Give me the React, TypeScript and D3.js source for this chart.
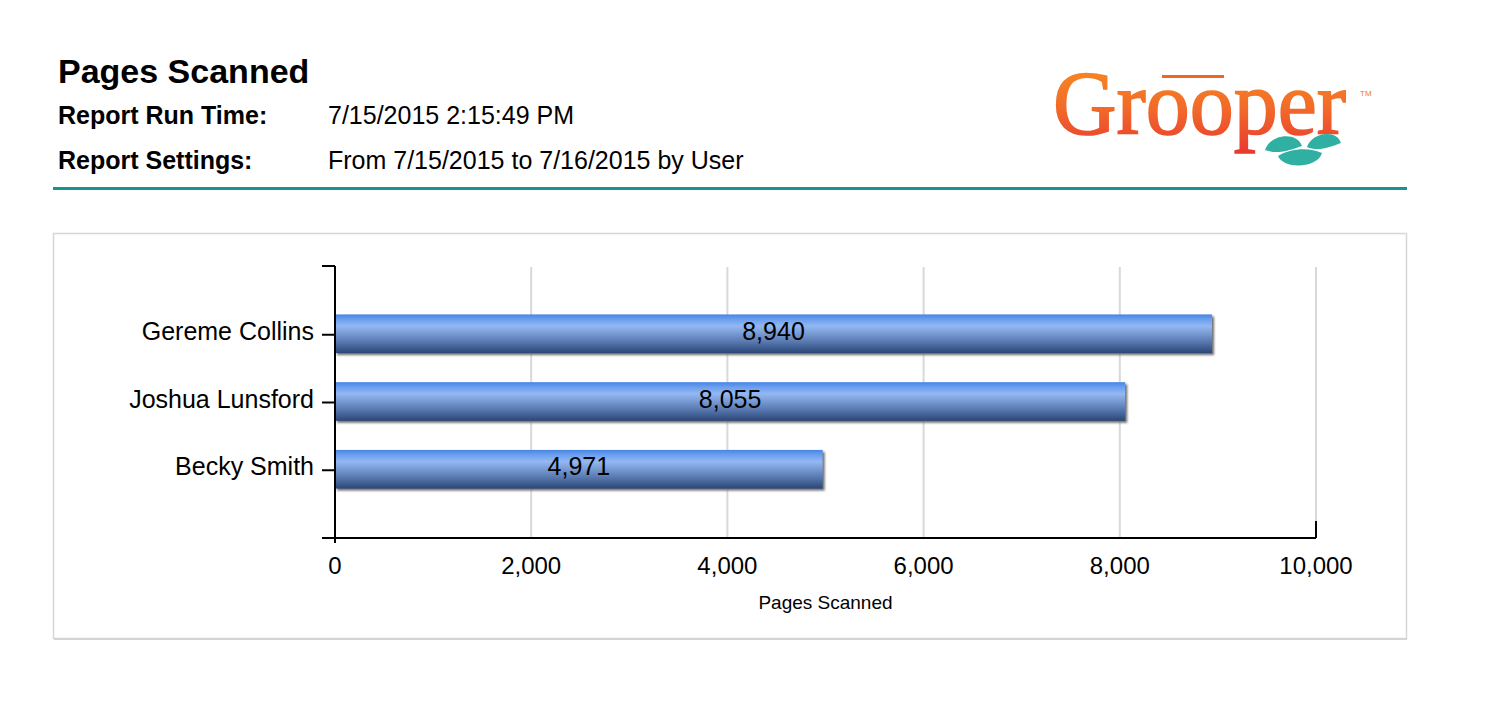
import * as d3 from "d3";

const users = ["Gereme Collins", "Joshua Lunsford", "Becky Smith"];
const pages = [8940, 8055, 4971];
const xTicks = [0, 2000, 4000, 6000, 8000, 10000];

const reportTitle = "Pages Scanned";
const runTime = "7/15/2015 2:15:49 PM";
const settings = "From 7/15/2015 to 7/16/2015 by User";
const xTitle = "Pages Scanned";

const font = "'Liberation Sans', Arial, sans-serif";

export default function App() {
    const width = 1490;
    const height = 702;
    const plot = { left: 335, right: 1316, top: 267, bottom: 538 };

    //----------------------------
    // Scales
    //----------------------------
    const x = d3.scaleLinear().domain([0, 10000]).range([plot.left, plot.right]);
    const y = d3
        .scaleBand<string>()
        .domain(users)
        .range([plot.top, plot.bottom])
        .paddingInner(0.4)
        .paddingOuter(0.7);
    const bh = y.bandwidth() - 2;
    const fmt = d3.format(",");

    return (
        <div style={{ position: "absolute", left: 0, top: 0 }}>
            <svg width={width} height={height} style={{ display: "block", background: "#fff" }}>
                <defs>
                    <linearGradient id="barGrad" x1="0" y1="0" x2="0" y2="1">
                        <stop offset="0" stopColor="#4785e4" />
                        <stop offset="0.12" stopColor="#699dee" />
                        <stop offset="0.3" stopColor="#93b8f2" />
                        <stop offset="0.48" stopColor="#7a9dd6" />
                        <stop offset="0.72" stopColor="#5677ae" />
                        <stop offset="1" stopColor="#2a4675" />
                    </linearGradient>
                    <linearGradient id="logoGrad" x1="0" y1="0" x2="0" y2="1">
                        <stop offset="0" stopColor="#f7941d" />
                        <stop offset="0.55" stopColor="#f26a2a" />
                        <stop offset="1" stopColor="#e8382f" />
                    </linearGradient>
                    <filter id="shadowBlur" x="-5%" y="-20%" width="110%" height="140%">
                        <feGaussianBlur stdDeviation="0.8" />
                    </filter>
                </defs>

                {/* header */}
                <text x={58} y={83} fontFamily={font} fontWeight="bold" fontSize={34} fill="#000">
                    {reportTitle}
                </text>
                <text x={58} y={124} fontFamily={font} fontWeight="bold" fontSize={25} fill="#000">
                    Report Run Time:
                </text>
                <text x={328} y={124} fontFamily={font} fontSize={25} fill="#000">
                    {runTime}
                </text>
                <text x={58} y={169} fontFamily={font} fontWeight="bold" fontSize={25} fill="#000">
                    Report Settings:
                </text>
                <text x={328} y={169} fontFamily={font} fontSize={25} fill="#000">
                    {settings}
                </text>
                <rect x={53} y={187} width={1354} height={3} fill="#14968f" />

                {/* logo */}
                <g>
                    <text
                        x={1053}
                        y={134}
                        fontFamily="'Liberation Serif', 'DejaVu Serif', serif"
                        fontSize={92}
                        textLength={293}
                        lengthAdjust="spacingAndGlyphs"
                        fill="url(#logoGrad)"
                        stroke="url(#logoGrad)"
                        strokeWidth={1.6}
                    >
                        Grooper
                    </text>
                    <rect x={1162} y={75} width={62} height={3} fill="#f0642a" />
                    <text x={1360} y={96} fontFamily={font} fontSize={8} fill="#f07a2a">
                        TM
                    </text>
                    <path d="M1265,150 C1270,134 1297,131 1302,146 C1290,150 1278,155 1265,150 Z" fill="#2fb0a3" />
                    <path d="M1307,147 C1312,132 1337,129 1341,143 C1330,147 1318,152 1307,147 Z" fill="#2fb0a3" />
                    <path d="M1278,156 C1290,148 1310,147 1322,153 C1318,168 1284,170 1278,156 Z" fill="#2fb0a3" />
                </g>

                {/* chart box */}
                <rect x={53.5} y={233.5} width={1353} height={405} fill="#fff" stroke="#d6d6d6" strokeWidth={1.5} />
                <line x1={54} x2={1407} y1={639} y2={639} stroke="#d4d4d4" strokeWidth={2} />

                {/* gridlines */}
                {xTicks
                    .filter((t) => t > 0)
                    .map((t) => (
                        <line key={t} x1={x(t)} x2={x(t)} y1={plot.top} y2={plot.bottom} stroke="#d9d9d9" strokeWidth={2} />
                    ))}

                {/* bars */}
                {users.map((u, i) => {
                    const y0 = y(u) ?? 0;
                    const w = x(pages[i]) - x(0);
                    return (
                        <g key={u}>
                            <rect x={x(0) + 2} y={y0 + 2} width={w} height={bh} fill="#6f6f6f" filter="url(#shadowBlur)" />
                            <rect x={x(0)} y={y0} width={w} height={bh} fill="url(#barGrad)" />
                            <text
                                x={x(0) + w / 2}
                                y={y0 + bh / 2 + 6}
                                textAnchor="middle"
                                fontFamily={font}
                                fontSize={25}
                                fill="#000"
                            >
                                {fmt(pages[i])}
                            </text>
                        </g>
                    );
                })}

                {/* y axis */}
                <line x1={plot.left} x2={plot.left} y1={plot.top - 1} y2={plot.bottom + 5} stroke="#000" strokeWidth={2} />
                <line x1={plot.left - 13} x2={plot.left} y1={plot.top - 1} y2={plot.top - 1} stroke="#000" strokeWidth={2} />
                {users.map((u) => {
                    const cy = (y(u) ?? 0) + y.bandwidth() / 2;
                    return (
                        <g key={u}>
                            <line x1={plot.left - 13} x2={plot.left} y1={cy} y2={cy} stroke="#000" strokeWidth={2} />
                            <text x={314} y={cy + 5} textAnchor="end" fontFamily={font} fontSize={25} fill="#000">
                                {u}
                            </text>
                        </g>
                    );
                })}

                {/* x axis */}
                <line x1={plot.left - 13} x2={plot.right} y1={plot.bottom} y2={plot.bottom} stroke="#000" strokeWidth={2} />
                <line x1={plot.right} x2={plot.right} y1={plot.bottom - 17} y2={plot.bottom} stroke="#000" strokeWidth={2} />
                {xTicks.map((t) => (
                    <text key={t} x={x(t)} y={574} textAnchor="middle" fontFamily={font} fontSize={24} fill="#000">
                        {fmt(t)}
                    </text>
                ))}
                <text x={(plot.left + plot.right) / 2} y={609} textAnchor="middle" fontFamily={font} fontSize={19} fill="#000">
                    {xTitle}
                </text>
            </svg>
        </div>
    );
}
